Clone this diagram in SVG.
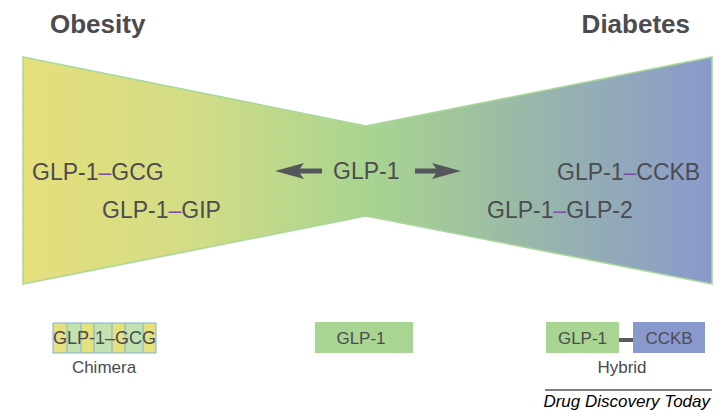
<svg xmlns="http://www.w3.org/2000/svg" width="726" height="417" viewBox="0 0 726 417">
<style>
text{font-family:"Liberation Sans",Arial,sans-serif;fill:#4b4b50}
.title{font-size:26px;font-weight:bold}
.lab{font-size:23px}
.sm{font-size:17px}
.dash{fill:#7b4f9e}
</style>
<defs>
<linearGradient id="bg" x1="23" y1="0" x2="712" y2="0" gradientUnits="userSpaceOnUse">
<stop offset="0" stop-color="#e6df7c"/>
<stop offset="0.25" stop-color="#d2dc86"/>
<stop offset="0.5" stop-color="#a9d490"/>
<stop offset="0.75" stop-color="#98b6ab"/>
<stop offset="1" stop-color="#8a99cc"/>
</linearGradient>
</defs>
<rect width="726" height="417" fill="#ffffff"/>
<g id="titles">
<text class="title" x="50" y="33">Obesity</text>
<text class="title" x="690" y="33" text-anchor="end">Diabetes</text>
</g>
<g id="bowtie">
<polygon points="23,57 366,126 712,57 712,284 366,216 23,284" fill="url(#bg)" stroke="#a9d89a" stroke-width="1.5"/>
</g>
<g id="labels">
<text class="lab" x="32" y="180">GLP-1<tspan class="dash">–</tspan>GCG</text>
<text class="lab" x="102" y="218">GLP-1<tspan class="dash">–</tspan>GIP</text>
<text class="lab" x="557" y="180">GLP-1<tspan class="dash">–</tspan>CCKB</text>
<text class="lab" x="487" y="218">GLP-1<tspan class="dash">–</tspan>GLP-2</text>
<text class="lab" x="333" y="179">GLP-1</text>
</g>
<g id="connectors">
<polygon points="275,171 304,163 300,168.5 322,168.5 322,173.5 300,173.5 304,179" fill="#55565b"/>
<polygon points="461,171 432,163 436,168.5 415,168.5 415,173.5 436,173.5 432,179" fill="#55565b"/>
<line x1="619" y1="340" x2="633" y2="340" stroke="#5a5a5f" stroke-width="4"/>
</g>
<g id="chimera">
<rect x="53" y="323" width="14" height="30" fill="#e6e07f"/>
<rect x="67" y="323" width="14" height="30" fill="#c3e2b2"/>
<rect x="81" y="323" width="13" height="30" fill="#e6e07f"/>
<rect x="94" y="323" width="18" height="30" fill="#c3e2b2"/>
<rect x="112" y="323" width="13" height="30" fill="#e6e07f"/>
<rect x="125" y="323" width="18" height="30" fill="#c3e2b2"/>
<rect x="143" y="323" width="13" height="30" fill="#e6e07f"/>
<g fill="none" stroke="#7db4cf" stroke-width="1">
<rect x="53" y="323" width="103" height="30"/>
<line x1="67" y1="323" x2="67" y2="353"/>
<line x1="81" y1="323" x2="81" y2="353"/>
<line x1="94" y1="323" x2="94" y2="353"/>
<line x1="112" y1="323" x2="112" y2="353"/>
<line x1="125" y1="323" x2="125" y2="353"/>
<line x1="143" y1="323" x2="143" y2="353"/>
</g>
<text class="sm" x="104.5" y="344" text-anchor="middle" font-size="18" style="font-size:18px">GLP-1–GCG</text>
<text class="sm" x="104" y="373" text-anchor="middle">Chimera</text>
</g>
<g id="glp1">
<rect x="315" y="322" width="98" height="31" fill="#a9d592"/>
<text class="sm" x="361" y="344" text-anchor="middle">GLP-1</text>
</g>
<g id="hybrid">
<rect x="546" y="322" width="73" height="31" fill="#a9d592"/>
<text class="sm" x="582.5" y="344" text-anchor="middle">GLP-1</text>
<rect x="633" y="322" width="72" height="31" fill="#8a99cd"/>
<text class="sm" x="669" y="344" text-anchor="middle">CCKB</text>
<text class="sm" x="622" y="373" text-anchor="middle">Hybrid</text>
</g>
<g id="footer">
<line x1="545" y1="390" x2="712" y2="390" stroke="#000" stroke-width="1"/>
<text x="710" y="407" text-anchor="end" style="font-size:17px;font-style:italic;fill:#000">Drug Discovery Today</text>
</g>
</svg>
